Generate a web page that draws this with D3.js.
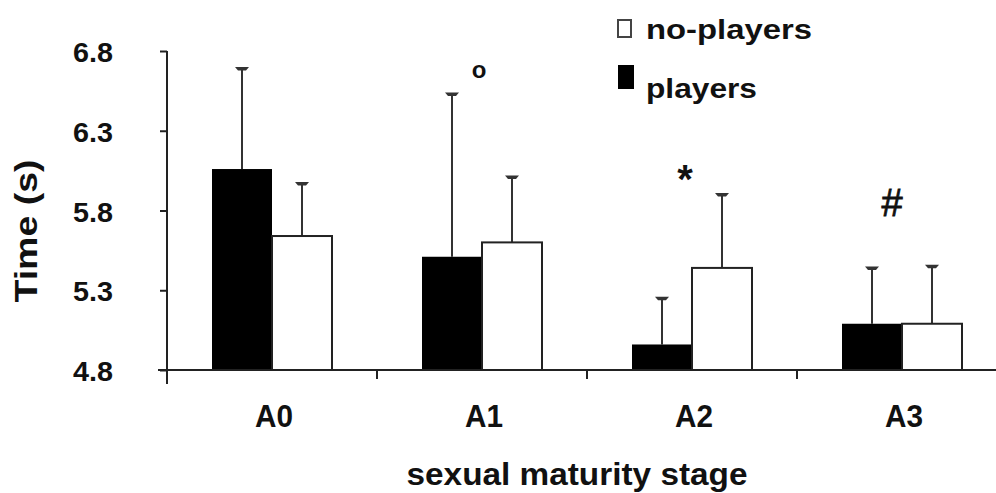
<!DOCTYPE html>
<html>
<head>
<meta charset="utf-8">
<script src="https://cdn.jsdelivr.net/npm/d3@7"></script>
<style>
  html, body { margin: 0; padding: 0; background: #fff; }
  svg { display: block; font-family: "Liberation Sans", Arial, sans-serif; }
</style>
</head>
<body>
<svg id="chart" width="996" height="493"></svg>
<script>
// ---- data ----
const categories = ["A0", "A1", "A2", "A3"];
const seriesNames = ["players", "no-players"];
const playersMean = [6.06, 5.51, 4.96, 5.09];
const playersSD = [0.63, 1.02, 0.29, 0.35];
const noPlayersMean = [5.64, 5.60, 5.44, 5.09];
const noPlayersSD = [0.33, 0.41, 0.46, 0.36];
const yTicks = [4.8, 5.3, 5.8, 6.3, 6.8];
const marks = ["", "o", "*", "#"]; // significance marks
const markShow = [false, true, true, true];

const svg = d3.select("#chart");
const W = 996, H = 493;

const x0 = d3.scaleBand().domain(categories).range([167, 1007]).padding(0);
const x1 = d3.scaleBand().domain(seriesNames).range([x0.bandwidth() / 2 - 60, x0.bandwidth() / 2 + 60]).padding(0);
const y = d3.scaleLinear().domain([4.8, 6.8]).range([370, 51]);

const rows = categories.map((c, i) => ({
  cat: c,
  vals: [
    { s: "players", m: playersMean[i], sd: playersSD[i] },
    { s: "no-players", m: noPlayersMean[i], sd: noPlayersSD[i] }
  ]
}));

const axisColor = "#222";

// bars
const g = svg.append("g");
const grp = g.selectAll("g.cat").data(rows).join("g")
  .attr("transform", d => `translate(${x0(d.cat)},0)`);

grp.selectAll("line.err").data(d => d.vals).join("line")
  .attr("x1", d => x1(d.s) + x1.bandwidth() / 2)
  .attr("x2", d => x1(d.s) + x1.bandwidth() / 2)
  .attr("y1", d => y(d.m))
  .attr("y2", d => y(d.m + d.sd))
  .attr("stroke", "#333").attr("stroke-width", 2);
grp.selectAll("path.cap").data(d => d.vals).join("path")
  .attr("d", d => {
    const cx = x1(d.s) + x1.bandwidth() / 2, cy = y(d.m + d.sd);
    return `M${cx - 7},${cy - 1.5}L${cx + 7},${cy - 1.5}L${cx + 4},${cy + 2}L${cx - 4},${cy + 2}Z`;
  })
  .attr("fill", "#333");

grp.selectAll("rect").data(d => d.vals).join("rect")
  .attr("x", d => x1(d.s))
  .attr("y", d => y(d.m))
  .attr("width", x1.bandwidth())
  .attr("height", d => y(4.8) - y(d.m))
  .attr("fill", d => d.s === "players" ? "#000" : "#fff")
  .attr("stroke", d => d.s === "players" ? "#000" : "#222")
  .attr("stroke-width", d => d.s === "players" ? 0 : 2);

// axes
const yAxis = d3.axisLeft(y).tickValues(yTicks).tickSize(7).tickFormat(d3.format(".1f"));
const yg = svg.append("g").attr("transform", "translate(167,0)").call(yAxis);
yg.select(".domain").remove();
yg.selectAll(".tick line").attr("stroke", axisColor).attr("stroke-width", 2);
yg.selectAll(".tick text")
  .attr("x", -54).attr("text-anchor", "end")
  .attr("font-size", 28).attr("font-weight", "bold").attr("fill", "#111")
  .attr("font-family", "Liberation Sans, Arial, sans-serif")
  .attr("textLength", 40).attr("lengthAdjust", "spacingAndGlyphs")
  .attr("dy", "0.38em");
svg.append("line").attr("x1", 167).attr("x2", 167).attr("y1", 51).attr("y2", 384)
  .attr("stroke", axisColor).attr("stroke-width", 2);

// x axis line and boundary ticks
svg.append("line").attr("x1", 158).attr("x2", W).attr("y1", 370).attr("y2", 370)
  .attr("stroke", axisColor).attr("stroke-width", 2);
svg.selectAll("line.xb").data(categories.slice(1)).join("line")
  .attr("x1", d => x0(d)).attr("x2", d => x0(d))
  .attr("y1", 370).attr("y2", 379)
  .attr("stroke", axisColor).attr("stroke-width", 2);
svg.selectAll("text.xl").data(categories).join("text")
  .attr("x", d => x0(d) + x0.bandwidth() / 2 + 2)
  .attr("y", 427)
  .attr("text-anchor", "middle")
  .attr("font-size", 32).attr("font-weight", "bold").attr("fill", "#111")
  .attr("textLength", 38).attr("lengthAdjust", "spacingAndGlyphs")
  .text(d => d);

// axis titles
svg.append("text")
  .attr("x", 577).attr("y", 485).attr("text-anchor", "middle")
  .attr("font-size", 31).attr("font-weight", "bold").attr("fill", "#111")
  .attr("textLength", 341).attr("lengthAdjust", "spacingAndGlyphs")
  .text("sexual maturity  stage");
svg.append("text")
  .attr("transform", "translate(37,231) rotate(-90)")
  .attr("text-anchor", "middle")
  .attr("font-size", 31).attr("font-weight", "bold").attr("fill", "#111")
  .attr("textLength", 143).attr("lengthAdjust", "spacingAndGlyphs")
  .text("Time (s)");

// significance marks
const markPos = [null, { dy: 78, size: 24, w: "bold", off: -3 }, { dy: 193, size: 40, w: "bold", off: -7 }, { dy: 216, size: 38, w: "normal", off: -10 }];
categories.forEach((c, i) => {
  if (!markShow[i]) return;
  const p = markPos[i];
  svg.append("text")
    .attr("x", x0(c) + x0.bandwidth() / 2 + p.off)
    .attr("y", p.dy)
    .attr("text-anchor", "middle")
    .attr("font-size", p.size).attr("font-weight", p.w).attr("fill", "#111")
    .attr("stroke", i === 3 ? "#111" : "none").attr("stroke-width", i === 3 ? 0.8 : 0)
    .text(marks[i]);
});

// legend
const legend = svg.append("g");
const legendItems = [
  { s: "no-players", rx: 618, ry: 20, rw: 13, rh: 17, tx: 646, ty: 39, tl: 166 },
  { s: "players", rx: 618, ry: 65, rw: 16, rh: 24, tx: 646, ty: 98, tl: 111 }
];
legendItems.forEach(it => {
  legend.append("rect").attr("x", it.rx).attr("y", it.ry).attr("width", it.rw).attr("height", it.rh)
    .attr("fill", it.s === "players" ? "#000" : "#fff")
    .attr("stroke", it.s === "players" ? "none" : "#444").attr("stroke-width", 2);
  legend.append("text").attr("x", it.tx).attr("y", it.ty)
    .attr("font-size", 27).attr("font-weight", "bold").attr("fill", "#111")
    .attr("textLength", it.tl).attr("lengthAdjust", "spacingAndGlyphs")
    .text(it.s);
});
</script>
</body>
</html>
